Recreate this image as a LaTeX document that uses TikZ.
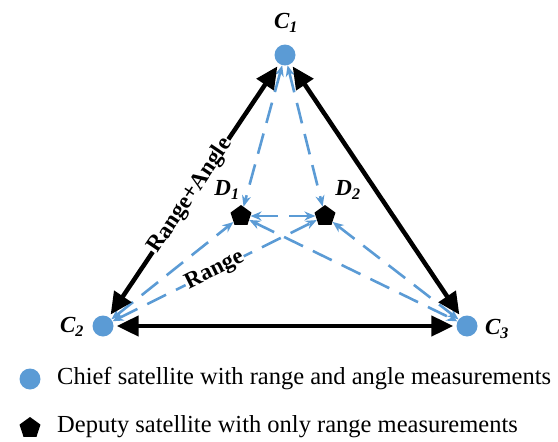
\documentclass[tikz,border=0pt]{standalone}
\usepackage{fontspec}
\setmainfont{Liberation Serif}
\usetikzlibrary{arrows.meta,shapes.geometric}
\definecolor{sblue}{HTML}{5B9BD5}
\tikzset{
  chief/.style={circle,fill=sblue,minimum size=21pt,inner sep=0pt},
  deputy/.style={regular polygon,regular polygon sides=5,fill=black,minimum size=22pt,inner sep=0pt},
  blk/.style={line width=4.5pt,{Triangle[length=22pt,width=20pt]}-{Triangle[length=22pt,width=20pt]}},
  bl/.style={sblue,line width=2.6pt,dash pattern=on 21pt off 11pt,{Stealth[length=11pt,width=9pt]}-{Stealth[length=11pt,width=9pt]}},
  lbl/.style={font=\fontsize{23}{26}\selectfont\bfseries\itshape},
  rlbl/.style={font=\fontsize{23}{26}\selectfont\bfseries,text=black,fill=white,inner sep=1pt,sloped},
  leg/.style={font=\fontsize{24.5}{28}\selectfont,anchor=west,inner sep=0pt}
}
\begin{document}
\begin{tikzpicture}[x=1pt,y=-1pt]
\useasboundingbox (0,0) rectangle (558,442);
\node[chief] (c1) at (285,55) {};
\node[chief] (c2) at (103,326) {};
\node[chief] (c3) at (467,326) {};
\node[deputy] (d1) at (241,216) {};
\node[deputy] (d2) at (325,216) {};
\node[lbl] (lc1) at (286,23) {C\textsubscript{1}};
\node[lbl] (lc2) at (72,327) {C\textsubscript{2}};
\node[lbl] (lc3) at (497,329) {C\textsubscript{3}};
\node[lbl] (ld1) at (227,190) {D\textsubscript{1}};
\node[lbl] (ld2) at (348,190) {D\textsubscript{2}};
% blue dashed links
\draw[bl] (c1) -- (d1);
\draw[bl] (c1) -- (d2);
\draw[bl] (d1) -- (d2);
\draw[bl] (c2) -- (d1);
\draw[bl] (d1) -- (c3);
\draw[bl] (d2) -- (c3);
\draw[bl] (c2) -- node[rlbl,pos=0.5] (rg) {Range} (d2);
% black links
\draw[blk,shorten <=3pt,shorten >=3pt] (c1) -- node[rlbl,pos=0.52] (ra) {Range+Angle} (c2);
\draw[blk,shorten <=3pt,shorten >=3pt] (c1) -- (c3);
\draw[blk,shorten <=3pt,shorten >=3pt] (c2) -- (c3);
% legend
\node[chief] (lg1) at (30,379) {};
\node[leg] (lt1) at (57,379) {Chief satellite with range and angle measurements};
\node[deputy] (lg2) at (30,428) {};
\node[leg] (lt2) at (57,427) {Deputy satellite with only range measurements};
\end{tikzpicture}
\end{document}
